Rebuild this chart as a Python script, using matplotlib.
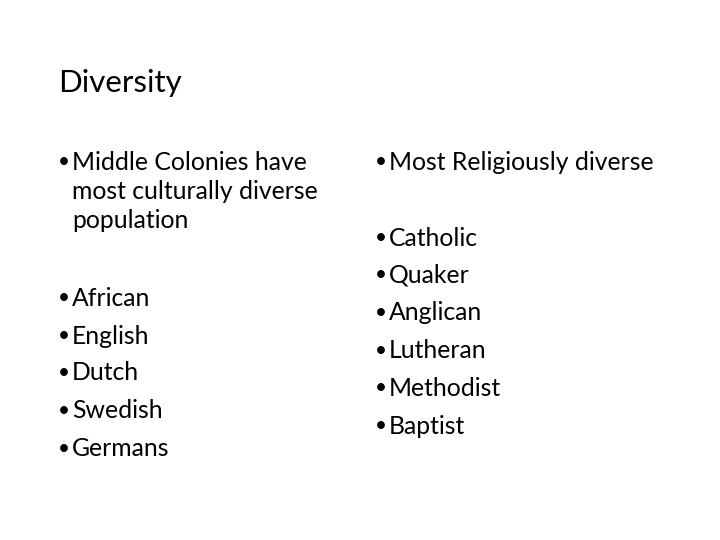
import matplotlib
matplotlib.use("Agg")
import matplotlib.pyplot as plt

plt.rcParams['font.family'] = ['Lato', 'DejaVu Sans']

title = "Diversity"
left_items = [("Middle Colonies have\nmost culturally diverse\npopulation", 162),
              ("African", 298), ("English", 336), ("Dutch", 373),
              ("Swedish", 411), ("Germans", 449)]
right_items = [("Most Religiously diverse", 162), ("Catholic", 238),
               ("Quaker", 275), ("Anglican", 313), ("Lutheran", 351),
               ("Methodist", 388), ("Baptist", 426)]

W, H = 720, 540
fig = plt.figure(figsize=(7.2, 5.4), dpi=100)
fig.patch.set_color("white")


def put(x, y, s, **kw):
    fig.text(x / W, 1 - y / H, s, va="center", ha="left", color="black", **kw)


put(58, 83, title, fontsize=22.5)

for items, bx in [(left_items, 58), (right_items, 375)]:
    for text, y in items:
        put(bx, y, "•", fontsize=15)
        for i, line in enumerate(text.split("\n")):
            put(bx + 14, y + i * 29.5, line, fontsize=17.8)

fig.savefig("out.png", dpi=100)
